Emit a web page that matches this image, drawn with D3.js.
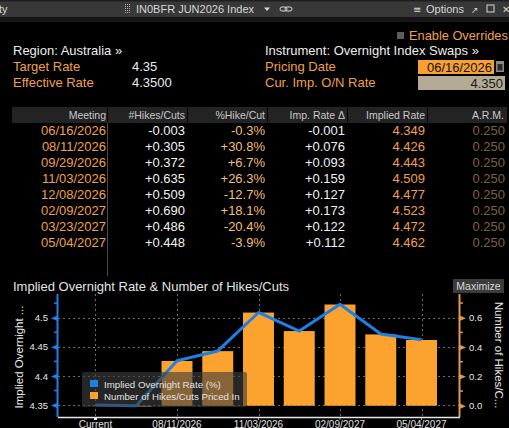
<!DOCTYPE html>
<html>
<head>
<meta charset="utf-8">
<script src="https://cdn.jsdelivr.net/npm/d3@7"></script>
<style>
  html, body { margin: 0; padding: 0; background: #000; overflow: hidden; }
  svg { display: block; }
</style>
</head>
<body>
<div id="container"></div>
<script>
// Header values
const region = "Australia";
const instrument = "Overnight Index Swaps";
const targetRate = "4.35";
const effectiveRate = "4.3500";
const pricingDate = "06/16/2026";
const curImpRate = "4.350";

// Table data
const columns = ["Meeting", "#Hikes/Cuts", "%Hike/Cut", "Imp. Rate \u0394", "Implied Rate", "A.R.M."];
const meetings = ["06/16/2026", "08/11/2026", "09/29/2026", "11/03/2026", "12/08/2026", "02/09/2027", "03/23/2027", "05/04/2027"];
const hikesCuts = [-0.003, 0.305, 0.372, 0.635, 0.509, 0.690, 0.486, 0.448];
const pctHikeCut = [-0.3, 30.8, 6.7, 26.3, -12.7, 18.1, -20.4, -3.9];
const impRateDelta = [-0.001, 0.076, 0.093, 0.159, 0.127, 0.173, 0.122, 0.112];
const impliedRate = [4.349, 4.426, 4.443, 4.509, 4.477, 4.523, 4.472, 4.462];
const arm = [0.250, 0.250, 0.250, 0.250, 0.250, 0.250, 0.250, 0.250];

// Chart data
const currentRate = 4.35;
const categories = ["Current"].concat(meetings);
const lineValues = [currentRate].concat(impliedRate);
const xTickLabels = ["Current", "08/11/2026", "11/03/2026", "02/09/2027", "05/04/2027"];
const rateTicks = [4.35, 4.4, 4.45, 4.5];
const rateMinorTicks = [4.375, 4.425, 4.475, 4.525];
const hikeTicks = [0, 0.2, 0.4, 0.6];
const hikeMinorTicks = [0.1, 0.3, 0.5, 0.7];

const W = 509, H = 428;
const font = "'Liberation Sans', Arial, sans-serif";
const orange = "#f0a04b";
const barColor = "#fca22e";
const blue = "#1c80e6";

const loc = d3.formatLocale({decimal: ".", thousands: ",", grouping: [3], currency: ["$", ""], minus: "-"});
const fSigned = loc.format("+.3f");
const fPct = loc.format("+.1f");
const f3 = loc.format(".3f");

const svg = d3.select("#container").append("svg")
    .attr("width", W)
    .attr("height", H)
    .style("font-family", font);

svg.append("rect").attr("width", W).attr("height", H).attr("fill", "#000");

// ---- top window bar
svg.append("rect").attr("x", 0).attr("y", 0).attr("width", W).attr("height", 17).attr("fill", "#383838");
svg.append("rect").attr("x", 0).attr("y", 0).attr("width", W).attr("height", 1.5).attr("fill", "#1e1e1e");
svg.append("rect").attr("x", 0).attr("y", 17).attr("width", W).attr("height", 5).attr("fill", "#151515");

const bar = svg.append("g").attr("fill", "#d6d6d6").attr("font-size", 11);
bar.append("text").attr("x", -1).attr("y", 13).text("ty");
// grip dots
for (let c = 0; c < 3; c++) {
  for (let r = 0; r < 5; r++) {
    bar.append("rect").attr("x", 125 + c * 2).attr("y", 4 + r * 2).attr("width", 1).attr("height", 1).attr("fill", "#aaa");
  }
}
bar.append("text").attr("x", 136).attr("y", 13).text("IN0BFR JUN2026 Index");
bar.append("path").attr("d", "M264,7.5 L270,7.5 L267,11 Z").attr("fill", "#d6d6d6");
// link icon
bar.append("rect").attr("x", 280).attr("y", 7).attr("width", 7).attr("height", 4).attr("rx", 2)
    .attr("fill", "none").attr("stroke", "#d6d6d6").attr("stroke-width", 1);
bar.append("rect").attr("x", 285).attr("y", 7).attr("width", 7).attr("height", 4).attr("rx", 2)
    .attr("fill", "none").attr("stroke", "#d6d6d6").attr("stroke-width", 1);
bar.append("text").attr("x", 413).attr("y", 13).style("font-family", "'DejaVu Sans'").attr("font-size", 10).text("\u2261");
bar.append("text").attr("x", 426).attr("y", 13).text("Options");
bar.append("text").attr("x", 471).attr("y", 13).style("font-family", "'DejaVu Sans'").attr("font-size", 9).text("\u2197");
bar.append("rect").attr("x", 487).attr("y", 5).attr("width", 7).attr("height", 7)
    .attr("fill", "none").attr("stroke", "#d6d6d6").attr("stroke-width", 1);
bar.append("text").attr("x", 502).attr("y", 13).style("font-family", "'DejaVu Sans'").attr("font-size", 10).text("\u2715");

// ---- header fields
svg.append("rect").attr("x", 397).attr("y", 32).attr("width", 7).attr("height", 7).attr("fill", "#5c5c5c");
svg.append("text").attr("x", 409).attr("y", 40).attr("font-size", 12.8).attr("fill", orange).text("Enable Overrides");

const hdr = svg.append("g").attr("font-size", 13);
hdr.append("text").attr("x", 13).attr("y", 55).attr("fill", "#ececec").text("Region: " + region + " \u00bb");
hdr.append("text").attr("x", 13).attr("y", 71).attr("fill", orange).text("Target Rate");
hdr.append("text").attr("x", 13).attr("y", 87).attr("fill", orange).text("Effective Rate");
hdr.append("text").attr("x", 132).attr("y", 71).attr("fill", "#ececec").text(targetRate);
hdr.append("text").attr("x", 132).attr("y", 87).attr("fill", "#ececec").text(effectiveRate);
hdr.append("text").attr("x", 265).attr("y", 55).attr("fill", "#ececec").text("Instrument: " + instrument + " \u00bb");
hdr.append("text").attr("x", 265).attr("y", 71).attr("fill", orange).text("Pricing Date");
hdr.append("text").attr("x", 265).attr("y", 87).attr("fill", orange).text("Cur. Imp. O/N Rate");

hdr.append("rect").attr("x", 418).attr("y", 60).attr("width", 76).attr("height", 14).attr("fill", "#f8a031");
hdr.append("text").attr("x", 492).attr("y", 71.5).attr("text-anchor", "end").attr("fill", "#111").text(pricingDate);
hdr.append("rect").attr("x", 496).attr("y", 61).attr("width", 8).attr("height", 11).attr("fill", "#8a8a8a");
hdr.append("rect").attr("x", 497.5).attr("y", 64).attr("width", 5).attr("height", 6.5).attr("fill", "#2a2a2a");
hdr.append("rect").attr("x", 418).attr("y", 76).attr("width", 87).attr("height", 14).attr("fill", "#b3a994");
hdr.append("text").attr("x", 503).attr("y", 87.5).attr("text-anchor", "end").attr("fill", "#1a1a1a").text(curImpRate);

// ---- table
const colRight = [106, 185, 265, 345, 425, 505];
const colLeft = [12, 108, 188, 268, 348, 428];
const table = svg.append("g");

table.selectAll("rect.hcell")
  .data(columns)
  .join("rect")
    .attr("class", "hcell")
    .attr("x", (d, i) => colLeft[i])
    .attr("y", 107)
    .attr("width", (d, i) => (i < 5 ? colLeft[i + 1] - 1 : 507) - colLeft[i])
    .attr("height", 16)
    .attr("fill", "#232323");

table.selectAll("text.htext")
  .data(columns)
  .join("text")
    .attr("class", "htext")
    .attr("x", (d, i) => colRight[i] - (i === 5 ? 1 : 0))
    .attr("y", 119)
    .attr("text-anchor", "end")
    .attr("font-size", 10.5)
    .attr("fill", "#c9c9c9")
    .text(d => d);

table.append("line")
    .attr("x1", 107.5).attr("x2", 107.5)
    .attr("y1", 123).attr("y2", 276)
    .attr("stroke", "#4a4a4a").attr("stroke-width", 1);

const rows = meetings.map((m, i) => [
  {v: m, c: orange},
  {v: fSigned(hikesCuts[i]), c: "#f2f2f2"},
  {v: fPct(pctHikeCut[i]) + "%", c: "#f5bd7a"},
  {v: fSigned(impRateDelta[i]), c: "#f2f2f2"},
  {v: f3(impliedRate[i]), c: orange},
  {v: f3(arm[i]), c: "#7d6240"}
]);

table.selectAll("g.row")
  .data(rows)
  .join("g")
    .attr("class", "row")
    .attr("transform", (d, i) => `translate(0, ${135 + i * 16})`)
  .selectAll("text")
  .data(d => d)
  .join("text")
    .attr("x", (d, i) => colRight[i])
    .attr("text-anchor", "end")
    .attr("font-size", 13)
    .attr("fill", d => d.c)
    .text(d => d.v);

// ---- chart
const plot = {left: 58, right: 459, top: 294, bottom: 417};

svg.append("text")
    .attr("x", 13).attr("y", 291)
    .attr("font-size", 13)
    .attr("fill", "#e4e4e4")
    .text("Implied Overnight Rate & Number of Hikes/Cuts");

svg.append("rect").attr("x", 453).attr("y", 279).attr("width", 51).attr("height", 14).attr("fill", "#3b3b3b");
svg.append("text").attr("x", 478.5).attr("y", 290).attr("text-anchor", "middle")
    .attr("font-size", 10.5).attr("fill", "#d8d8d8").text("Maximize");

const x = d3.scaleBand()
    .domain(categories)
    .range([plot.left, plot.right])
    .paddingInner(0.24)
    .paddingOuter(0.54);

const yRate = d3.scaleLinear()
    .domain([4.3296, 4.5407])
    .range([plot.bottom, plot.top]);

const yHike = d3.scaleLinear()
    .domain([-0.077, 0.7616])
    .range([plot.bottom, plot.top]);

const cx = d => x(d) + x.bandwidth() / 2;

// grid
const grid = svg.append("g")
    .attr("stroke", "#6e6e6e")
    .attr("stroke-width", 1)
    .attr("stroke-dasharray", "2,3");
grid.selectAll("line.h")
  .data(rateTicks)
  .join("line")
    .attr("class", "h")
    .attr("x1", plot.left).attr("x2", plot.right)
    .attr("y1", d => Math.round(yRate(d)) + 0.5)
    .attr("y2", d => Math.round(yRate(d)) + 0.5);
grid.selectAll("line.v")
  .data(xTickLabels)
  .join("line")
    .attr("class", "v")
    .attr("x1", d => Math.round(cx(d)) + 0.5)
    .attr("x2", d => Math.round(cx(d)) + 0.5)
    .attr("y1", plot.top).attr("y2", plot.bottom);

// bars
svg.append("g")
  .selectAll("rect")
  .data(meetings)
  .join("rect")
    .attr("x", d => x(d))
    .attr("width", x.bandwidth())
    .attr("y", (d, i) => Math.min(yHike(0), yHike(hikesCuts[i])))
    .attr("height", (d, i) => Math.max(1, Math.abs(yHike(hikesCuts[i]) - yHike(0))))
    .attr("fill", barColor);

// line
const line = d3.line()
    .x((d, i) => cx(categories[i]))
    .y(d => yRate(d));

svg.append("path")
    .datum(lineValues)
    .attr("d", line)
    .attr("fill", "none")
    .attr("stroke", blue)
    .attr("stroke-width", 3)
    .attr("stroke-linejoin", "round");

// left axis
const leftAxis = svg.append("g")
    .attr("transform", `translate(${plot.left},0)`)
    .call(d3.axisLeft(yRate).tickValues(rateTicks).tickSize(0).tickPadding(10).tickFormat(d3.format("")));
leftAxis.select(".domain").remove();
leftAxis.selectAll("text").attr("fill", "#e8e8e8").attr("font-size", 9.5).style("font-family", font);
leftAxis.selectAll(".tick").append("path")
    .attr("d", "M0,-3 L0,3 L-7,0 Z")
    .attr("fill", blue);
svg.append("g")
  .selectAll("line")
  .data(rateMinorTicks)
  .join("line")
    .attr("x1", plot.left - 4).attr("x2", plot.left)
    .attr("y1", d => yRate(d)).attr("y2", d => yRate(d))
    .attr("stroke", blue).attr("stroke-width", 1.5);
svg.append("line")
    .attr("x1", plot.left - 0.5).attr("x2", plot.left - 0.5)
    .attr("y1", plot.top).attr("y2", plot.bottom)
    .attr("stroke", blue).attr("stroke-width", 2);

// right axis
const rightAxis = svg.append("g")
    .attr("transform", `translate(${plot.right},0)`)
    .call(d3.axisRight(yHike).tickValues(hikeTicks).tickSize(0).tickPadding(10).tickFormat(d3.format(".1f")));
rightAxis.select(".domain").remove();
rightAxis.selectAll("text").attr("fill", "#e8e8e8").attr("font-size", 9.5).style("font-family", font);
rightAxis.selectAll(".tick").append("path")
    .attr("d", "M0,-3 L0,3 L7,0 Z")
    .attr("fill", "#e39a45");
svg.append("g")
  .selectAll("line")
  .data(hikeMinorTicks)
  .join("line")
    .attr("x1", plot.right).attr("x2", plot.right + 4)
    .attr("y1", d => yHike(d)).attr("y2", d => yHike(d))
    .attr("stroke", "#e39a45").attr("stroke-width", 1.5);
svg.append("line")
    .attr("x1", plot.right + 0.5).attr("x2", plot.right + 0.5)
    .attr("y1", plot.top).attr("y2", plot.bottom)
    .attr("stroke", "#e39a45").attr("stroke-width", 2);

// bottom axis
const bottomAxis = svg.append("g")
    .attr("transform", `translate(0,${plot.bottom})`)
    .call(d3.axisBottom(x).tickValues(xTickLabels).tickSize(3).tickPadding(1));
bottomAxis.select(".domain").remove();
bottomAxis.selectAll(".tick line").attr("stroke", "#9a9a9a").attr("stroke-width", 1);
bottomAxis.selectAll(".tick").filter(d => d === "Current").select("line")
    .attr("stroke", "#f0f0f0").attr("stroke-width", 3);
bottomAxis.selectAll("text").attr("fill", "#e0e0e0").attr("font-size", 10).style("font-family", font);
svg.append("line")
    .attr("x1", plot.left).attr("x2", plot.right + 1)
    .attr("y1", plot.bottom + 0.5).attr("y2", plot.bottom + 0.5)
    .attr("stroke", "#e8e8e8").attr("stroke-width", 1.5);

// axis titles
svg.append("text")
    .attr("transform", "translate(23,357) rotate(-90)")
    .attr("text-anchor", "middle")
    .attr("font-size", 11.5)
    .attr("fill", "#e8e8e8")
    .text("Implied Overnight ...");
svg.append("text")
    .attr("transform", "translate(495,355) rotate(90)")
    .attr("text-anchor", "middle")
    .attr("font-size", 11.5)
    .attr("fill", "#e8e8e8")
    .text("Number of Hikes/C...");

// legend
const legend = svg.append("g").attr("transform", "translate(82,372)");
legend.append("rect")
    .attr("width", 165).attr("height", 35).attr("rx", 2)
    .attr("fill", "rgba(62,62,62,0.62)");
const legendItems = [
  {label: "Implied Overnight Rate (%)", color: blue},
  {label: "Number of Hikes/Cuts Priced In", color: barColor}
];
const li = legend.selectAll("g.item")
  .data(legendItems)
  .join("g")
    .attr("class", "item")
    .attr("transform", (d, i) => `translate(8, ${8 + i * 12})`);
li.append("rect").attr("width", 8).attr("height", 7).attr("fill", d => d.color);
li.append("text").attr("x", 14).attr("y", 8).attr("font-size", 9.7).attr("fill", "#e2e2e2").text(d => d.label);
</script>
</body>
</html>
